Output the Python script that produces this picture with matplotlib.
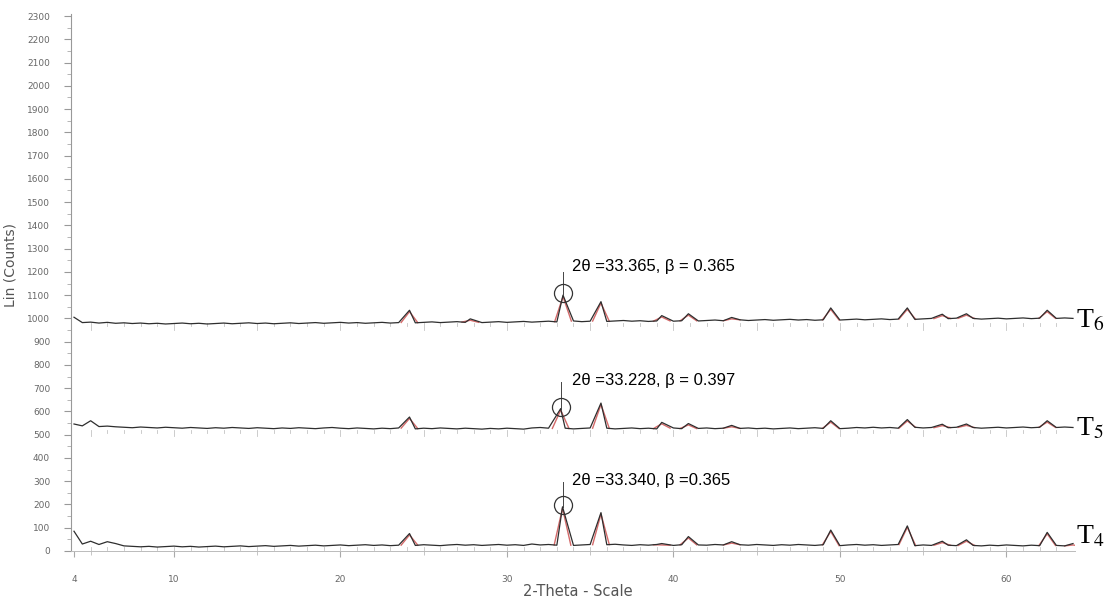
import numpy as np
import matplotlib.pyplot as plt
from matplotlib.ticker import MultipleLocator

plt.rcParams['mathtext.fontset'] = 'stix'

# baseline readings every 0.5 deg, 4 -> 64
two_theta = np.arange(4.0, 64.01, 0.5)

t4_base = [85, 30, 42, 28, 40, 32, 22, 20, 18, 20,
           17, 19, 21, 18, 20, 17, 19, 21, 18, 20,
           22, 19, 21, 23, 20, 22, 24, 21, 23, 25,
           22, 24, 26, 23, 25, 27, 24, 26, 23, 25,
           26, 24, 27, 25, 23, 26, 28, 25, 27, 24,
           26, 28, 25, 27, 24, 30, 26, 28, 25, 27,
           24, 26, 28, 25, 27, 29, 26, 24, 27, 25,
           28, 26, 24, 27, 29, 26, 25, 28, 26, 24,
           27, 25, 28, 26, 24, 27, 25, 28, 26, 24,
           27, 25, 23, 26, 28, 25, 27, 24, 26, 28,
           25, 23, 26, 24, 27, 25, 23, 26, 24, 22,
           25, 23, 26, 24, 22, 25, 23, 21, 24, 22,
           20]

t5_base = [546, 538, 560, 535, 537, 534, 532, 530, 533, 531,
           529, 532, 530, 528, 531, 529, 527, 530, 528, 531,
           529, 527, 530, 528, 526, 529, 527, 530, 528, 526,
           529, 531, 528, 526, 529, 527, 525, 528, 526, 529,
           527, 525, 528, 526, 529, 527, 525, 528, 526, 524,
           527, 525, 528, 526, 524, 529, 531, 528, 526, 528,
           525, 527, 529, 526, 528, 525, 527, 529, 526, 528,
           525, 527, 529, 526, 524, 527, 529, 526, 528, 525,
           527, 529, 526, 528, 525, 527, 529, 526, 528, 530,
           527, 529, 526, 528, 531, 529, 532, 529, 531, 528,
           530, 532, 529, 531, 528, 530, 532, 529, 531, 528,
           530, 532, 529, 531, 533, 530, 532, 534, 531, 533,
           531]

t6_base = [1005, 982, 984, 980, 983, 979, 981, 978, 980, 977,
           979, 976, 978, 980, 977, 979, 976, 978, 980, 977,
           979, 981, 978, 980, 977, 979, 981, 978, 980, 982,
           979, 981, 983, 980, 982, 979, 981, 983, 980, 982,
           984, 981, 983, 985, 982, 984, 986, 983, 985, 982,
           984, 986, 983, 985, 987, 984, 986, 988, 985, 987,
           989, 986, 988, 990, 987, 989, 991, 988, 990, 987,
           989, 991, 988, 990, 992, 989, 991, 993, 990, 992,
           994, 991, 993, 995, 992, 994, 996, 993, 995, 992,
           994, 996, 993, 995, 997, 994, 996, 998, 995, 997,
           999, 996, 998, 1000, 997, 999, 1001, 998, 1000, 997,
           999, 1001, 998, 1000, 1002, 999, 1001, 1003, 1000, 1002,
           1000]

# peak apex positions (deg) and apex counts
t4_peak_pos = [24.15, 33.34, 35.65, 39.3, 40.9, 43.5, 49.45, 54.05, 56.15, 57.6, 62.45, 64.0]
t4_peak_top = [75, 190, 165, 32, 62, 40, 90, 108, 42, 48, 80, 32]

t5_peak_pos = [24.15, 33.23, 35.65, 39.3, 40.9, 43.5, 49.45, 54.05, 56.15, 57.6, 62.45]
t5_peak_top = [576, 612, 636, 553, 548, 540, 560, 565, 545, 546, 560]

t6_peak_pos = [24.15, 27.8, 33.37, 35.65, 39.3, 40.9, 43.5, 49.45, 54.05, 56.15, 57.6, 62.45]
t6_peak_top = [1035, 998, 1100, 1072, 1012, 1020, 1004, 1045, 1045, 1018, 1020, 1035]

# main (104) reflection: marked position, stick top, label
main_pos = [33.34, 33.23, 33.37]
main_circle = [198, 619, 1109]
main_stick = [297, 727, 1200]
main_text = ['2θ =33.340, β =0.365',
             '2θ =33.228, β = 0.397',
             '2θ =33.365, β = 0.365']
text_y = [301, 735, 1225]

names = [r'T$_4$', r'T$_5$', r'T$_6$']
name_y = [62, 526, 990]


def build_trace(base, pos, top):
    x = list(two_theta)
    y = list(base)
    keep = [i for i in range(len(x)) if min(abs(x[i] - p) for p in pos) > 0.25]
    x = [x[i] for i in keep] + list(pos)
    y = [y[i] for i in keep] + list(top)
    order = np.argsort(x)
    return np.array(x)[order], np.array(y)[order]


fig = plt.figure(figsize=(11.05, 6.04), dpi=100)
ax = fig.add_axes([71/1105, 53/604, 1004/1105, 537.3/604])
ax.set_xlim(3.82, 64.12)
ax.set_ylim(0, 2310)

traces = [(t4_base, t4_peak_pos, t4_peak_top),
          (t5_base, t5_peak_pos, t5_peak_top),
          (t6_base, t6_peak_pos, t6_peak_top)]

for k, (base, pos, top) in enumerate(traces):
    x, y = build_trace(base, pos, top)

    # fitted peak outlines in red
    for p, t in zip(pos, top):
        bl = np.interp(p - 0.5, two_theta, base)
        br = np.interp(p + 0.5, two_theta, base)
        ax.plot([p - 0.5, p, p + 0.5], [bl, t - 6, br], color='#d46a6a', lw=1.0, zorder=2)

    # scale marks under each pattern
    lvl = np.mean(base)
    for d in range(5, 64):
        ln = 28 if d % 5 == 0 else 14
        ax.plot([d, d], [lvl - 8 - ln, lvl - 8], color='#c4c4c4', lw=0.6, zorder=1)

    ax.plot(x, y, color='#2e2e2e', lw=0.9, zorder=3)

    # stick + circle on the main reflection
    ax.plot([main_pos[k], main_pos[k]], [top[pos.index(main_pos[k])], main_stick[k]],
            color='#444444', lw=0.7, zorder=3)
    ax.plot(main_pos[k], main_circle[k], 'o', mfc='none', mec='#333333', ms=13, mew=0.9, zorder=4)
    ax.text(33.9, text_y[k], main_text[k], fontsize=12, family='Liberation Sans',
            va='center', ha='left', color='black')
    ax.text(64.2, name_y[k], names[k], fontsize=20, family='Liberation Serif',
            va='center', ha='left', color='black', clip_on=False)

for s in ['top', 'right']:
    ax.spines[s].set_visible(False)
ax.spines['left'].set_color('#999999')
ax.spines['bottom'].set_color('#bbbbbb')
ax.spines['bottom'].set_linewidth(0.7)

ax.yaxis.set_major_locator(MultipleLocator(100))
ax.yaxis.set_minor_locator(MultipleLocator(50))
ax.set_xticks([4, 10, 20, 30, 40, 50, 60])
ax.xaxis.set_minor_locator(MultipleLocator(5))
ax.tick_params(axis='y', which='major', length=5, color='#999999', labelsize=6.5,
               labelcolor='#666666', pad=10)
ax.tick_params(axis='y', which='minor', length=3, color='#aaaaaa')
ax.tick_params(axis='x', which='major', length=4, color='#aaaaaa', labelsize=6.5,
               labelcolor='#666666', pad=13)
ax.tick_params(axis='x', which='minor', length=3, color='#bbbbbb')

ax.set_ylabel('Lin (Counts)', fontsize=10, color='#555555')
ax.yaxis.set_label_coords(-0.053, 0.532)
ax.set_xlabel('2-Theta - Scale', fontsize=10.5, color='#555555')
ax.xaxis.set_label_coords(0.505, -0.062)

fig.savefig('out.png', dpi=100, facecolor='white')
